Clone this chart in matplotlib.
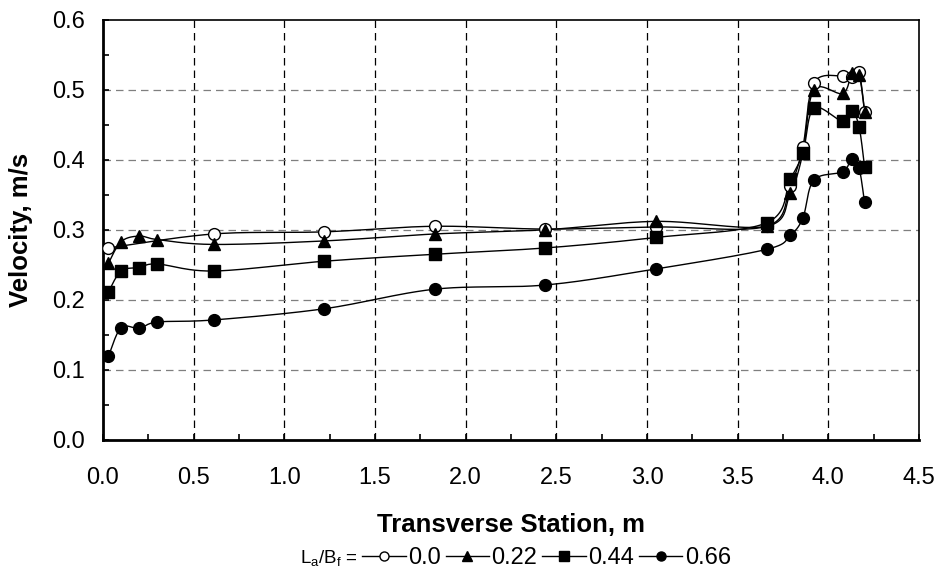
import matplotlib
matplotlib.use("Agg")
import matplotlib.pyplot as plt
from matplotlib.lines import Line2D
from matplotlib.ticker import MultipleLocator
import numpy as np

plt.rcParams['font.family'] = ['Liberation Sans', 'DejaVu Sans']
plt.rcParams['mathtext.fontset'] = 'custom'
plt.rcParams['mathtext.rm'] = 'Liberation Sans'

# transverse stations (m)
x_all = [0.03, 0.10, 0.20, 0.30, 0.61, 1.22, 1.83, 2.44, 3.05, 3.66,
         3.79, 3.86, 3.92, 4.08, 4.13, 4.17, 4.20]
x_open = [0.03, 0.61, 1.22, 1.83, 2.44, 3.05, 3.66,
          3.79, 3.86, 3.92, 4.08, 4.13, 4.17, 4.20]

v_00 = [0.274, 0.294, 0.297, 0.305, 0.301, 0.304, 0.305,
        0.362, 0.419, 0.510, 0.520, 0.518, 0.525, 0.469]
v_22 = [0.252, 0.283, 0.291, 0.286, 0.279, 0.284, 0.294, 0.300, 0.312, 0.305,
        0.352, 0.410, 0.500, 0.495, 0.524, 0.522, 0.469]
v_44 = [0.211, 0.241, 0.246, 0.251, 0.241, 0.255, 0.265, 0.274, 0.289, 0.310,
        0.372, 0.410, 0.474, 0.455, 0.470, 0.447, 0.390]
v_66 = [0.119, 0.160, 0.159, 0.168, 0.171, 0.187, 0.215, 0.221, 0.244, 0.272,
        0.292, 0.317, 0.371, 0.383, 0.401, 0.388, 0.339]

labels = ['0.0', '0.22', '0.44', '0.66']

fig = plt.figure(figsize=(9.43, 5.78), dpi=100)
ax = fig.add_axes([0.1092, 0.2396, 0.8653, 0.7258])
ax.set_xlim(0, 4.5)
ax.set_ylim(0, 0.6)


def smooth(ax, xs, ys, n=25):
    # Excel-like smoothed line: Catmull-Rom bezier in screen space
    pts = ax.transData.transform(np.column_stack([xs, ys]))
    p = np.vstack([pts[0], pts, pts[-1]])
    out = []
    t = np.linspace(0, 1, n)[:, None]
    for i in range(1, len(p) - 2):
        p0, p1, p2, p3 = p[i - 1], p[i], p[i + 1], p[i + 2]
        c1 = p1 + (p2 - p0) / 6
        c2 = p2 - (p3 - p1) / 6
        seg = ((1 - t) ** 3) * p1 + 3 * ((1 - t) ** 2) * t * c1 + 3 * (1 - t) * t ** 2 * c2 + t ** 3 * p2
        out.append(seg)
    out = np.vstack(out)
    d = ax.transData.inverted().transform(out)
    return d[:, 0], d[:, 1]


series = [
    (x_open, v_00, dict(marker='o', mfc='white', mec='black', ms=8.5, mew=1.0)),
    (x_all, v_22, dict(marker='^', mfc='black', mec='black', ms=8.5)),
    (x_all, v_44, dict(marker='s', mfc='black', mec='black', ms=8)),
    (x_all, v_66, dict(marker='o', mfc='black', mec='black', ms=8.5)),
]

for xs, ys, st in series:
    sx, sy = smooth(ax, xs, ys)
    ax.plot(sx, sy, color='black', lw=1.0, zorder=3)
for xs, ys, st in series:
    ax.plot(xs, ys, ls='none', zorder=4, **st)

# grid
for xv in np.arange(0.5, 4.5, 0.5):
    ax.axvline(xv, color='black', lw=0.9, ls=(0, (6, 4)), zorder=1)
for yv in np.arange(0.1, 0.6, 0.1):
    ax.axhline(yv, color='#7f7f7f', lw=0.9, ls=(0, (6, 4)), zorder=1)

ax.xaxis.set_major_locator(MultipleLocator(0.5))
ax.xaxis.set_minor_locator(MultipleLocator(0.25))
ax.yaxis.set_major_locator(MultipleLocator(0.1))
ax.yaxis.set_minor_locator(MultipleLocator(0.05))
ax.xaxis.set_major_formatter(plt.FuncFormatter(lambda v, p: f"{v:.1f}"))
ax.yaxis.set_major_formatter(plt.FuncFormatter(lambda v, p: f"{v:.1f}"))
ax.tick_params(which='both', direction='in', length=4, width=1.2, labelsize=17)
ax.tick_params(axis='y', which='both', pad=13)
ax.tick_params(axis='x', which='both', pad=20)
ax.tick_params(top=False, right=False)

for s in ['left', 'bottom']:
    ax.spines[s].set_linewidth(2)
for s in ['top', 'right']:
    ax.spines[s].set_linewidth(1.2)

ax.set_xlabel('Transverse Station, m', fontsize=18.5, fontweight='bold', labelpad=17)
ax.set_ylabel('Velocity, m/s', fontsize=18.5, fontweight='bold', labelpad=14)

# legend
fig.text(300 / 943, 1 - 559 / 578, r'L$_\mathrm{a}$/B$_\mathrm{f}$ =', fontsize=13.5, va='center', ha='left')
handles = []
for xs, ys, st in series:
    st2 = dict(st)
    st2['ms'] = 6.5
    handles.append(Line2D([], [], color='black', lw=1.0, **st2))
fig.legend(handles, labels, loc='center left', bbox_to_anchor=(362 / 943, 1 - 558 / 578),
           ncol=4, frameon=False, fontsize=17, handlelength=1.85, handletextpad=0.1,
           columnspacing=0.2, borderpad=0, borderaxespad=0)

fig.savefig('out.png', dpi=100)
